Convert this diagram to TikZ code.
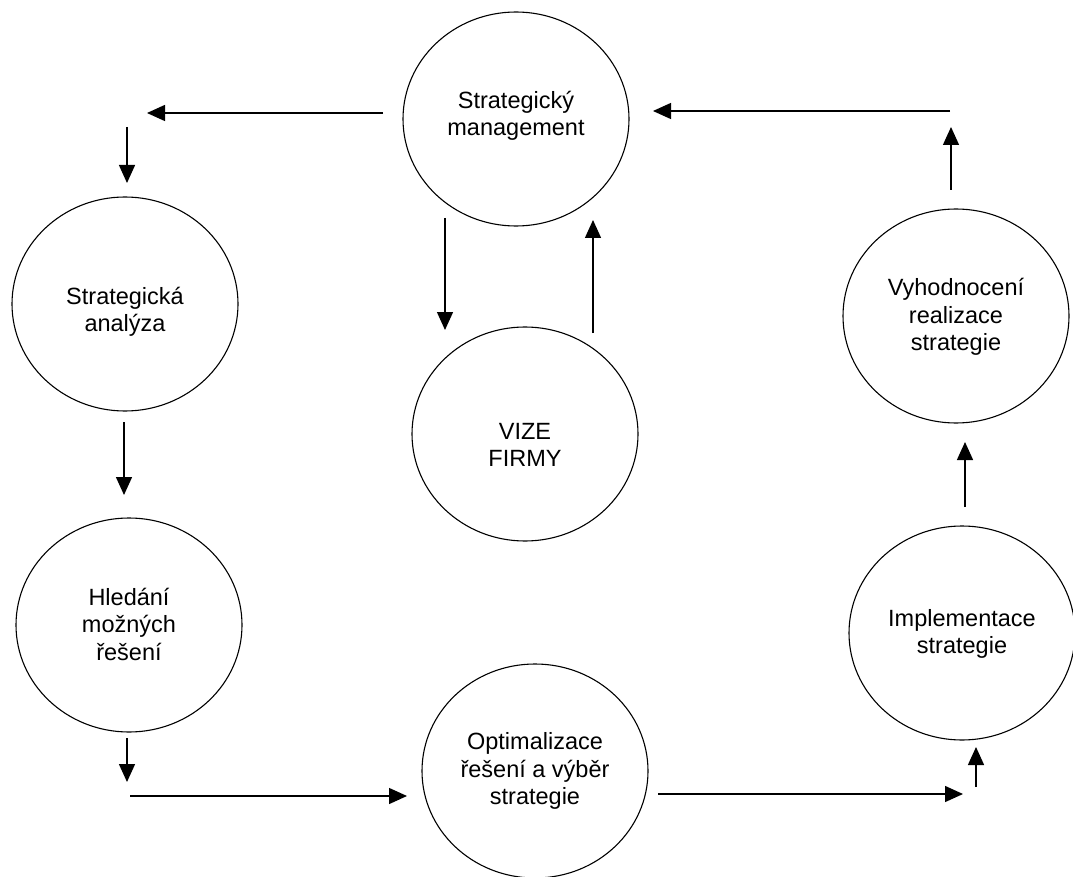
\documentclass[tikz,border=0pt]{standalone}
\usepackage{fontspec}
\setmainfont{Liberation Sans}
\usetikzlibrary{arrows.meta,shapes.geometric}

\begin{document}
\begin{tikzpicture}[x=1pt,y=-1pt,
  stage/.style={draw, line width=1.1pt, ellipse, minimum width=226pt, minimum height=214pt,
    inner sep=0pt},
  caption/.style={inner sep=0pt, align=center, font=\fontsize{23.5}{27.5}\selectfont},
  flow/.style={line width=1.4pt, -{Triangle[length=18pt,width=16pt]}}]
\useasboundingbox (0,0) rectangle (1073,877);

% process stages
\node[stage] (sm)   at (516,119) {};
\node[stage] (sa)   at (125,304) {};
\node[stage] (vize) at (525,434) {};
\node[stage] (hl)   at (129,625) {};
\node[stage] (opt)  at (535,771) {};
\node[stage] (imp)  at (962,633) {};
\node[stage] (vyh)  at (956,316) {};

% stage texts
\node[caption] (sm-t)   at (516,116) {Strategický\\management};
\node[caption] (sa-t)   at (125,312) {Strategická\\analýza};
\node[caption] (vize-t) at (525,445) {VIZE\\FIRMY};
\node[caption] (hl-t)   at (129,624) {Hledání\\možných\\řešení};
\node[caption] (opt-t)  at (535,771) {Optimalizace\\řešení a výběr\\strategie};
\node[caption] (imp-t)  at (962,634) {Implementace\\strategie};
\node[caption] (vyh-t)  at (956,317) {Vyhodnocení\\realizace\\strategie};

% arrow end points
\coordinate (a1s) at (383,113);  \coordinate (a1e) at (147,113);
\coordinate (a2s) at (127,127);  \coordinate (a2e) at (127,183);
\coordinate (a3s) at (124,422);  \coordinate (a3e) at (124,495);
\coordinate (a4s) at (127,738);  \coordinate (a4e) at (127,782);
\coordinate (a5s) at (130,796);  \coordinate (a5e) at (407,796);
\coordinate (a6s) at (658,794);  \coordinate (a6e) at (963,794);
\coordinate (a7s) at (976,787);  \coordinate (a7e) at (976,747);
\coordinate (a8s) at (965,507);  \coordinate (a8e) at (965,442);
\coordinate (a9s) at (951,190);  \coordinate (a9e) at (951,127);
\coordinate (a10s) at (950,111); \coordinate (a10e) at (653,111);
\coordinate (a11s) at (445,218); \coordinate (a11e) at (445,330);
\coordinate (a12s) at (593,333); \coordinate (a12e) at (593,220);

% flow arrows
\draw[flow] (a1s) -- (a1e);
\draw[flow] (a2s) -- (a2e);
\draw[flow] (a3s) -- (a3e);
\draw[flow] (a4s) -- (a4e);
\draw[flow] (a5s) -- (a5e);
\draw[flow] (a6s) -- (a6e);
\draw[flow] (a7s) -- (a7e);
\draw[flow] (a8s) -- (a8e);
\draw[flow] (a9s) -- (a9e);
\draw[flow] (a10s) -- (a10e);
\draw[flow] (a11s) -- (a11e);
\draw[flow] (a12s) -- (a12e);
\end{tikzpicture}
\end{document}
